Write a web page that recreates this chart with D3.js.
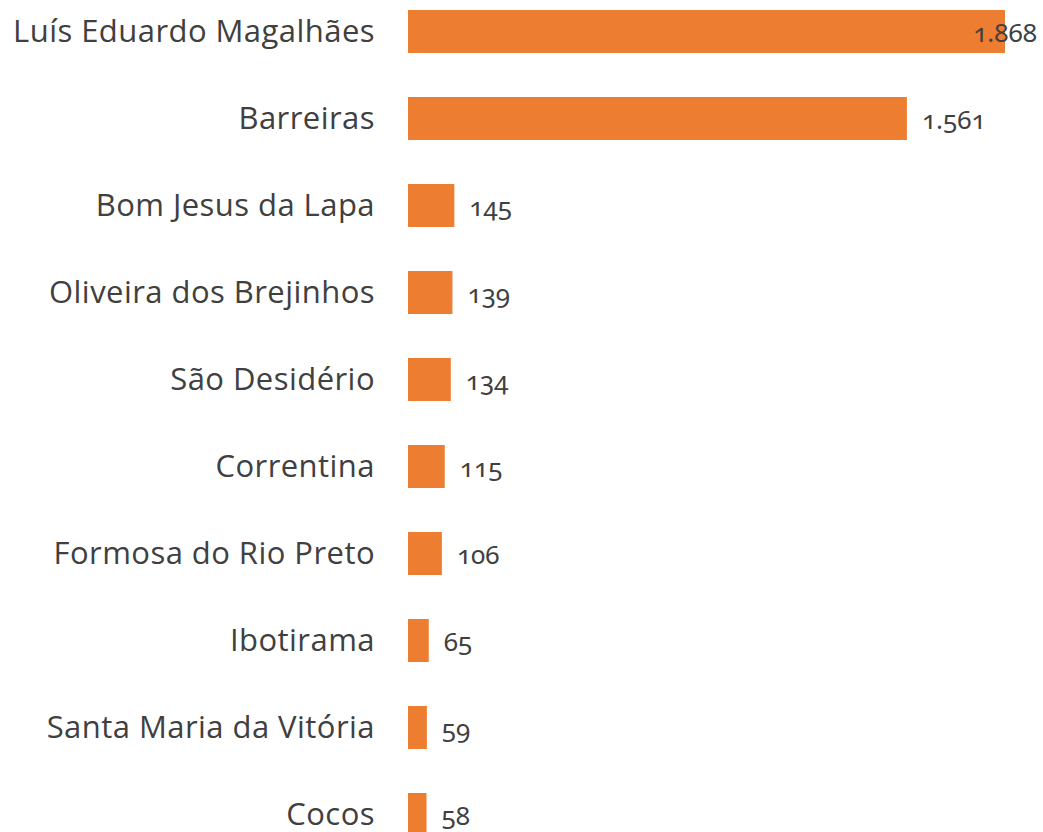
<!DOCTYPE html>
<html>
<head>
<meta charset="utf-8">
<script src="https://cdn.jsdelivr.net/npm/d3@7"></script>
<style>
  html, body { margin: 0; padding: 0; background: #fff; overflow: hidden; }
  svg { display: block; }
  .cat { font-family: "Open Sans", sans-serif; font-size: 31px; letter-spacing: 0.45px; fill: #404040; }
  .val { font-family: "Noto Sans", sans-serif; font-size: 26px; fill: #404040; font-variant-numeric: oldstyle-nums; }
</style>
</head>
<body>
<svg id="chart"></svg>
<script>
// Municipalities and their counts
const categories = [
  "Luís Eduardo Magalhães",
  "Barreiras",
  "Bom Jesus da Lapa",
  "Oliveira dos Brejinhos",
  "São Desidério",
  "Correntina",
  "Formosa do Rio Preto",
  "Ibotirama",
  "Santa Maria da Vitória",
  "Cocos"
];
const values = [1868, 1561, 145, 139, 134, 115, 106, 65, 59, 58];

const W = 1043, H = 832;
const svg = d3.select("#chart").attr("width", W).attr("height", H);

const x = d3.scaleLinear().domain([0, 1868]).range([408, 1005]);
const y = d3.scaleBand()
  .domain(categories)
  .range([-12, 858])
  .paddingInner(0.506)
  .paddingOuter(0.253);

// Brazilian thousands separator
const fmt = d3.formatLocale({ decimal: ",", thousands: ".", grouping: [3], currency: ["R$", ""] }).format(",d");

const rows = svg.selectAll("g.row")
  .data(categories.map((c, i) => ({ c, v: values[i] })))
  .join("g")
  .attr("class", "row");

rows.append("rect")
  .attr("x", x(0))
  .attr("y", d => y(d.c))
  .attr("width", d => x(d.v) - x(0))
  .attr("height", y.bandwidth())
  .attr("fill", "#ED7D31");

rows.append("text")
  .attr("class", "cat")
  .attr("x", 375)
  .attr("y", d => y(d.c) + y.bandwidth() / 2)
  .attr("dy", "0.34em")
  .attr("text-anchor", "end")
  .text(d => d.c);

// value labels sit right of each bar, pulled inside when they would run off the edge
rows.append("text")
  .attr("class", "val")
  .attr("y", d => y(d.c) + y.bandwidth() / 2)
  .attr("dy", "0.4em")
  .text(d => fmt(d.v))
  .each(function (d) {
    const w = this.getComputedTextLength();
    const pos = Math.min(x(d.v) + 15, W - 6 - w);
    d3.select(this).attr("x", pos);
  });
</script>
</body>
</html>
